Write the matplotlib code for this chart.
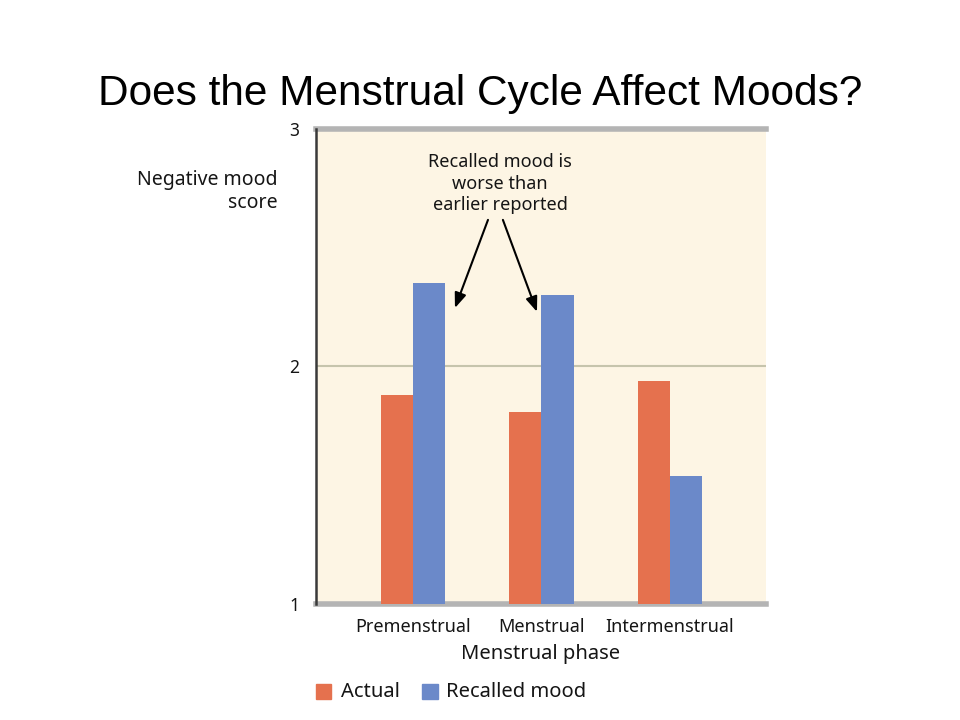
import matplotlib.pyplot as plt
import numpy as np
from matplotlib.patches import Rectangle

phases = ["Premenstrual", "Menstrual", "Intermenstrual"]
actual = [1.88, 1.81, 1.94]
recalled = [2.35, 2.30, 1.54]
y_ticks = [1, 2, 3]

ORANGE = "#e5714e"
BLUE = "#6b89c9"
CREAM = "#fdf5e4"
INK = "#151515"
FONT = "Noto Sans"

fig = plt.figure(figsize=(9.6, 7.2), dpi=100)
fig.text(0.5, 0.87, "Does the Menstrual Cycle Affect Moods?", ha="center", va="center",
         fontsize=30.5, family="Liberation Sans", color="black")

ax = fig.add_axes([0.329, 0.161, 0.469, 0.660])
ax.set_facecolor(CREAM)
x = np.arange(len(phases))
w = 0.25
ax.bar(x - w / 2, np.array(actual) - 1, w, bottom=1, color=ORANGE, zorder=3)
ax.bar(x + w / 2, np.array(recalled) - 1, w, bottom=1, color=BLUE, zorder=3)

ax.set_xlim(-0.755, 2.747)
ax.set_ylim(1, 3)
ax.axhline(2, color="#c6c4ac", lw=1.5, zorder=1)
for s in ["top", "bottom"]:
    ax.spines[s].set_color("#b4b4b4")
    ax.spines[s].set_linewidth(4)
ax.spines["right"].set_visible(False)
ax.spines["left"].set_color("#3a3a3a")
ax.spines["left"].set_linewidth(1.8)
ax.spines["left"].set_zorder(5)

ax.set_yticks(y_ticks)
ax.set_yticklabels([str(t) for t in y_ticks], family=FONT, fontsize=12.5, color=INK)
ax.tick_params(axis="y", length=0, pad=12)
ax.set_xticks(x)
ax.set_xticklabels(phases, family=FONT, fontsize=13, color=INK)
ax.tick_params(axis="x", length=0, pad=10)
ax.set_xlabel("Menstrual phase", family=FONT, fontsize=14.5, color=INK, labelpad=6)

fig.text(0.289, 0.734, "Negative mood\nscore", ha="right", va="center",
         family=FONT, fontsize=14, color=INK, linespacing=1.2)

ax.text(0.677, 2.77, "Recalled mood is\nworse than\nearlier reported", ha="center", va="center",
        family=FONT, fontsize=13, color=INK, linespacing=1.22, zorder=4)
for (x0, y0, x1, y1) in [(0.584, 2.617, 0.327, 2.246), (0.70, 2.617, 0.965, 2.23)]:
    ax.annotate("", xy=(x1, y1), xytext=(x0, y0),
                arrowprops=dict(arrowstyle="-|>,head_width=0.35,head_length=0.9",
                                color="black", lw=1.5, shrinkA=0, shrinkB=0), zorder=4)

# legend
fig.patches.append(Rectangle((0.329, 0.029), 0.016, 0.021, transform=fig.transFigure,
                             color=ORANGE))
fig.text(0.355, 0.039, "Actual", ha="left", va="center", family=FONT, fontsize=14.5, color=INK)
fig.patches.append(Rectangle((0.44, 0.029), 0.016, 0.021, transform=fig.transFigure,
                             color=BLUE))
fig.text(0.465, 0.039, "Recalled mood", ha="left", va="center", family=FONT, fontsize=14.5,
         color=INK)

fig.savefig("out.png", dpi=100)
